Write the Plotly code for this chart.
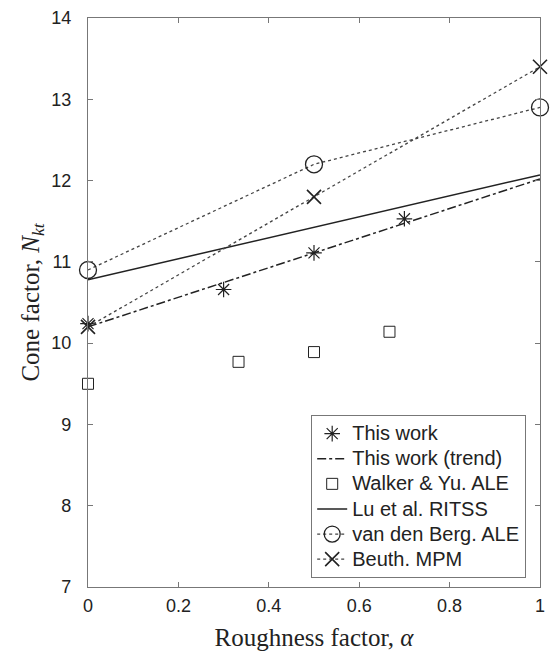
import plotly.graph_objects as go

# Data
tw_x = [0, 0.3, 0.5, 0.7]
tw_y = [10.24, 10.66, 11.11, 11.53]
trend_x = [0, 1]
trend_y = [10.2, 12.02]
wy_x = [0, 0.333, 0.5, 0.667]
wy_y = [9.5, 9.77, 9.89, 10.14]
lu_x = [0, 1]
lu_y = [10.78, 12.07]
vdb_x = [0, 0.5, 1]
vdb_y = [10.9, 12.2, 12.9]
beuth_x = [0, 0.5, 1]
beuth_y = [10.2, 11.8, 13.4]

xticks = [0, 0.2, 0.4, 0.6, 0.8, 1]
xticklabels = ["0", "0.2", "0.4", "0.6", "0.8", "1"]
yticks = [7, 8, 9, 10, 11, 12, 13, 14]

C = "#222222"


def lg(t):
    return '<span style="font-size:20px">' + t + '</span>'


fig = go.Figure()
fig.add_trace(go.Scatter(x=tw_x, y=tw_y, mode="markers", name=lg("This work"), cliponaxis=False,
    marker=dict(symbol="asterisk-open", size=13, color=C, line=dict(color=C, width=1.2))))
fig.add_trace(go.Scatter(x=trend_x, y=trend_y, mode="lines", name=lg("This work (trend)"), cliponaxis=False,
    line=dict(color=C, width=1.5, dash="dashdot")))
fig.add_trace(go.Scatter(x=wy_x, y=wy_y, mode="markers", name=lg("Walker &amp; Yu. ALE"), cliponaxis=False,
    marker=dict(symbol="square-open", size=11, color=C, line=dict(color=C, width=1))))
fig.add_trace(go.Scatter(x=lu_x, y=lu_y, mode="lines", name=lg("Lu et al. RITSS"), cliponaxis=False,
    line=dict(color=C, width=1.5)))
fig.add_trace(go.Scatter(x=vdb_x, y=vdb_y, mode="lines+markers", name=lg("van den Berg. ALE"), cliponaxis=False,
    line=dict(color="#444444", width=1.3, dash="dot"),
    marker=dict(symbol="circle-open", size=17, color=C, line=dict(color=C, width=1.3))))
fig.add_trace(go.Scatter(x=beuth_x, y=beuth_y, mode="lines+markers", name=lg("Beuth. MPM"), cliponaxis=False,
    line=dict(color="#444444", width=1.3, dash="dot"),
    marker=dict(symbol="x-thin-open", size=14, color=C, line=dict(color=C, width=1.6))))

axis_common = dict(showgrid=False, zeroline=False, showline=True, linecolor="#777777",
                   linewidth=1.2, ticks="inside", ticklen=5, tickcolor="#777777",
                   mirror="ticks", automargin=False,
                   tickfont=dict(family="Liberation Sans, Arial", size=18, color="#222"))
fig.update_xaxes(range=[0, 1], tickvals=xticks, ticktext=xticklabels,
                 ticklabelstandoff=2,
                 title=dict(text="Roughness factor, <i>α</i>",
                            font=dict(family="Liberation Serif, Times New Roman", size=25, color="#222"),
                            standoff=13),
                 **axis_common)
fig.update_yaxes(range=[7, 14], tickvals=yticks, ticklabelstandoff=12,
                 title=dict(text="Cone factor, <i>N</i><sub><i>kt</i></sub>",
                            font=dict(family="Liberation Serif, Times New Roman", size=25, color="#222"),
                            standoff=4),
                 **axis_common)
fig.update_layout(
    width=552, height=653,
    margin=dict(l=88, r=12, t=18, b=66),
    plot_bgcolor="white", paper_bgcolor="white",
    showlegend=True,
    legend=dict(x=0.969, y=0.016, xanchor="right", yanchor="bottom",
                bgcolor="white", bordercolor="#777777", borderwidth=1.2,
                font=dict(family="Liberation Sans, Arial", size=17, color="#222"),
                itemwidth=30, tracegroupgap=0),
)
fig.write_html("out.html")
